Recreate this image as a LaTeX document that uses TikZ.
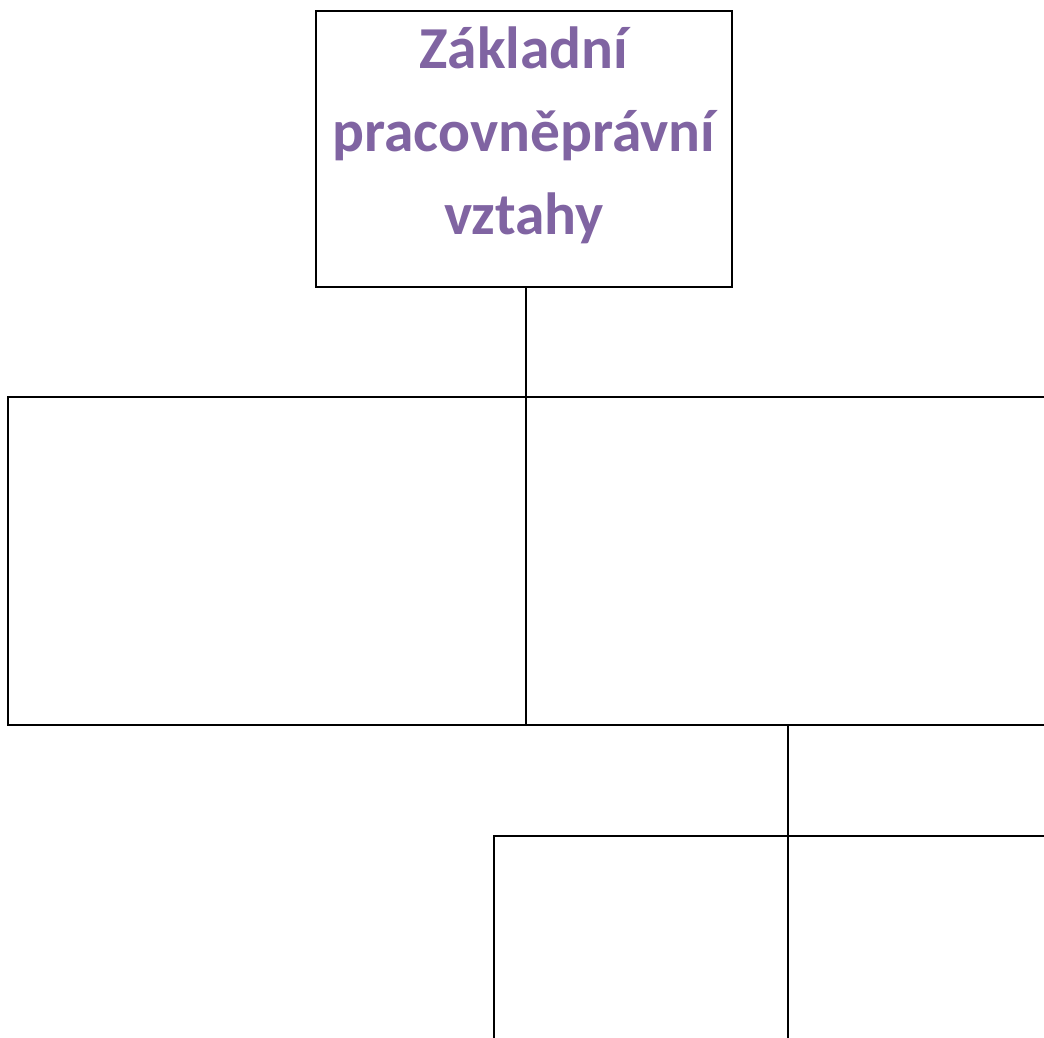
\documentclass[tikz,border=0pt]{standalone}
\usepackage{fontspec}
\setmainfont{Carlito}
\usetikzlibrary{positioning}
\definecolor{nadpisfialova}{HTML}{8064A2}
\tikzset{
	ramecek/.style={draw, line width=1.9pt, rectangle, inner sep=0pt, outer sep=0pt},
	spoj/.style={line width=1.9pt}
}
\begin{document}
\begin{tikzpicture}[x=1pt, y=-1pt]
	\useasboundingbox (0,0) rectangle (1044,1038);
	\clip (0,0) rectangle (1044,1038);
	
	% horni ramecek s nadpisem
	\node(zaklad)[ramecek, minimum width=416pt, minimum height=276pt, align=center, text depth=37pt,
		text=nadpisfialova, font=\fontsize{59.5}{83}\selectfont\bfseries] at (524,149)
		{Základní\\pracovněprávní\\vztahy};
	
	% prvni rada
	\node(levy)[ramecek, minimum width=518pt, minimum height=328pt] at (267,561) {};
	\node(pravy)[ramecek, minimum width=540pt, minimum height=328pt, right=0pt of levy] {};
	
	% druha rada
	\node(dolevy)[ramecek, minimum width=294pt, minimum height=328pt, anchor=north west] at (494,836) {};
	\node(dopravy)[ramecek, minimum width=294pt, minimum height=328pt, right=0pt of dolevy] {};
	
	\draw[spoj] (levy.north east |- zaklad.south) -- (levy.north east);
	\draw[spoj] (dolevy.north east) -- (dolevy.north east |- pravy.south);
\end{tikzpicture}
\end{document}
